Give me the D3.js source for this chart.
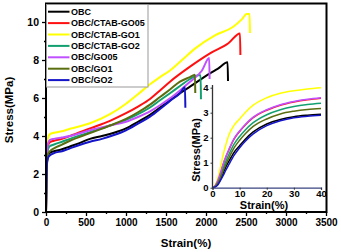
<!DOCTYPE html>
<html><head><meta charset="utf-8">
<script src="https://cdn.jsdelivr.net/npm/d3@7"></script>
<style>
body{margin:0;background:#fff;}
text{font-family:Arial,"Liberation Sans",sans-serif;font-weight:bold;fill:#000;}
</style></head>
<body><svg id="c" width="341" height="252"></svg>
<script>
const seriesNames = ["OBC","OBC/CTAB-GO05","OBC/CTAB-GO1","OBC/CTAB-GO2","OBC/GO05","OBC/GO1","OBC/GO2"];
const seriesColors = ["#000000","#ff1010","#ffff00","#12a070","#c050ff","#5a6e10","#1414c8"];

// main curves: [strain %, stress MPa]
const obc = [[0,0],[5,1.5],[12,2.6],[25,2.95],[50,3.12],[100,3.2],[200,3.3],[300,3.45],[400,3.6],[550,3.85],[700,4.0],[850,4.17],[1000,4.4],[1150,4.75],[1300,5.12],[1425,5.5],[1550,5.88],[1675,6.25],[1800,6.6],[2050,7.3],[2150,7.55],[2270,7.88],[2275,6.9]];
const ctabGo05 = [[0,0],[5,1.7],[12,2.9],[25,3.5],[50,3.68],[100,3.75],[200,3.85],[300,4.0],[550,4.4],[800,4.8],[1000,5.2],[1150,5.55],[1300,5.95],[1425,6.4],[1550,6.86],[1800,7.65],[2050,8.35],[2280,8.88],[2425,9.4],[2430,8.26]];
const ctabGo1 = [[0,0],[5,2.0],[12,3.3],[25,3.9],[50,4.1],[100,4.17],[200,4.25],[300,4.38],[550,4.67],[800,5.15],[1000,5.7],[1150,6.2],[1300,6.72],[1425,7.1],[1550,7.45],[1700,8.0],[1862,8.6],[2112,9.3],[2341,9.75],[2450,10.15],[2508,10.42],[2545,10.42],[2550,9.42]];
const ctabGo2 = [[0,0],[5,1.6],[12,2.8],[25,3.3],[50,3.47],[100,3.55],[200,3.7],[300,3.85],[550,4.2],[800,4.55],[1000,4.85],[1150,5.15],[1300,5.5],[1425,5.88],[1550,6.25],[1675,6.63],[1800,7.0],[1900,7.2],[1933,7.2],[1937,5.93]];
const go05 = [[0,0],[5,1.8],[12,3.0],[25,3.6],[50,3.79],[100,3.85],[200,3.92],[300,4.0],[550,4.3],[800,4.55],[1000,4.75],[1150,5.0],[1300,5.3],[1425,5.62],[1550,5.98],[1675,6.4],[1800,6.85],[1950,7.45],[2040,8.1],[2045,7.0]];
const go1 = [[0,0],[5,1.5],[12,2.6],[25,3.05],[50,3.2],[100,3.35],[200,3.55],[300,3.75],[550,4.15],[800,4.55],[1000,4.9],[1150,5.25],[1300,5.65],[1425,6.05],[1550,6.45],[1675,6.86],[1800,7.1],[1862,7.22],[1866,6.26]];
const go2 = [[0,0],[5,1.4],[12,2.5],[25,2.85],[50,2.98],[100,3.1],[200,3.2],[300,3.35],[400,3.5],[550,3.7],[700,3.85],[850,4.05],[1000,4.3],[1150,4.65],[1300,5.02],[1425,5.42],[1550,5.85],[1675,6.25],[1737,6.56],[1742,5.49]];
const mainSeries = [obc, ctabGo05, ctabGo1, ctabGo2, go05, go1, go2];

// inset curves (0-40 % strain)
const insetStrain = [0,1,2,3,4,5,6,8,10,12,15,20,25,30,35,40];
const insetObc     = [0,0.04,0.15,0.35,0.6,0.85,1.05,1.42,1.68,1.93,2.23,2.55,2.73,2.84,2.9,2.94];
const insetCtabGo05= [0,0.08,0.3,0.6,0.95,1.25,1.5,1.95,2.25,2.5,2.8,3.1,3.3,3.43,3.52,3.58];
const insetCtabGo1 = [0,0.1,0.4,0.85,1.35,1.75,2.1,2.5,2.75,3.0,3.3,3.6,3.78,3.88,3.95,4.0];
const insetCtabGo2 = [0,0.07,0.25,0.5,0.8,1.08,1.32,1.75,2.05,2.3,2.6,2.92,3.12,3.25,3.33,3.38];
const insetGo05    = [0,0.08,0.31,0.62,0.97,1.27,1.52,1.97,2.27,2.52,2.82,3.12,3.32,3.45,3.54,3.6];
const insetGo1     = [0,0.05,0.2,0.42,0.7,0.95,1.18,1.6,1.9,2.15,2.45,2.75,2.95,3.06,3.13,3.17];
const insetGo2     = [0,0.03,0.12,0.3,0.5,0.72,0.92,1.3,1.6,1.85,2.15,2.48,2.68,2.8,2.86,2.9];
const insetSeries = [insetObc, insetCtabGo05, insetCtabGo1, insetCtabGo2, insetGo05, insetGo1, insetGo2];

const xTicks = [0,500,1000,1500,2000,2500,3000,3500];
const yTicks = [0,2,4,6,8,10];
const insetXTicks = [0,10,20,30,40];
const insetYTicks = [0,1,2,3,4];

const svg = d3.select("#c");
const x = d3.scaleLinear().domain([0,3500]).range([46,326]);
const y = d3.scaleLinear().domain([0,11]).range([212,3]);
const fmt = d3.format("d");

// axes
const xAx = svg.append("g").attr("transform","translate(0,212)")
  .call(d3.axisBottom(x).tickValues(xTicks).tickFormat(fmt).tickSize(4).tickPadding(3));
svg.append("g").attr("transform","translate(0,212)")
  .call(d3.axisBottom(x).tickValues(d3.range(250,3500,500)).tickSize(2).tickFormat(""));
const yAx = svg.append("g").attr("transform","translate(46,0)")
  .call(d3.axisLeft(y).tickValues(yTicks).tickFormat(fmt).tickSize(4).tickPadding(3));
svg.append("g").attr("transform","translate(46,0)")
  .call(d3.axisLeft(y).tickValues([1,3,5,7,9]).tickSize(2).tickFormat(""));
svg.selectAll(".domain").remove();
svg.selectAll(".tick line").attr("stroke","#000").attr("stroke-width",1.3);
xAx.selectAll("text").attr("font-size","10px").attr("font-family","Arial,'Liberation Sans',sans-serif").attr("font-weight","bold");
yAx.selectAll("text").attr("font-size","10.5px").attr("font-family","Arial,'Liberation Sans',sans-serif").attr("font-weight","bold");

// curves
const line = d3.line().x(d=>x(d[0])).y(d=>y(d[1])).curve(d3.curveMonotoneX);
mainSeries.forEach((s,i)=>{
  svg.append("path").attr("d",line(s)).attr("fill","none")
    .attr("stroke",seriesColors[i]).attr("stroke-width",2).attr("stroke-linejoin","round");
});

// frame
svg.append("rect").attr("x",46).attr("y",3.5).attr("width",280.5).attr("height",208.5)
  .attr("fill","none").attr("stroke","#000").attr("stroke-width",2);

// axis titles
svg.append("text").attr("x",186).attr("y",247).attr("text-anchor","middle").attr("font-size","11.5px").text("Strain(%)");
svg.append("text").attr("transform","translate(13,110) rotate(-90)").attr("text-anchor","middle").attr("font-size","11.5px").text("Stress(MPa)");

// legend
const lg = svg.append("g");
lg.append("rect").attr("x",46.5).attr("y",4.5).attr("width",101.5).attr("height",82.5)
  .attr("fill","#fff").attr("stroke","#999").attr("stroke-width",1);
seriesNames.forEach((n,i)=>{
  const yy = 11.7 + i*11.4;
  lg.append("line").attr("x1",48).attr("x2",69.5).attr("y1",yy).attr("y2",yy)
    .attr("stroke",seriesColors[i]).attr("stroke-width",2);
  lg.append("text").attr("x",71).attr("y",yy).attr("dy","0.35em").attr("font-size","9px").text(n);
});

// inset
const ix = d3.scaleLinear().domain([0,40]).range([212.5,321]);
const iy = d3.scaleLinear().domain([0,4]).range([187.7,87.7]);
const iline = d3.line().x((d,k)=>ix(insetStrain[k])).y(d=>iy(d)).curve(d3.curveMonotoneX);
insetSeries.forEach((s,i)=>{
  svg.append("path").attr("d",iline(s)).attr("fill","none")
    .attr("stroke",seriesColors[i]).attr("stroke-width",1.5);
});
const ixAx = svg.append("g").attr("transform","translate(0,187.7)")
  .call(d3.axisBottom(ix).tickValues(insetXTicks).tickFormat(fmt).tickSize(2).tickPadding(1));
ixAx.select(".domain").attr("stroke","#3a4580").attr("stroke-width",1.3);
const iyAx = svg.append("g").attr("transform","translate(212.5,0)")
  .call(d3.axisLeft(iy).tickValues(insetYTicks).tickFormat(fmt).tickSize(2).tickPadding(2));
iyAx.select(".domain").attr("stroke","#333").attr("stroke-width",1.3).attr("d","M0,85V187.7");
[ixAx,iyAx].forEach(g=>{
  g.selectAll(".tick line").attr("stroke","#333");
  g.selectAll("text").attr("font-size","9.5px").attr("font-family","Arial,'Liberation Sans',sans-serif").attr("font-weight","bold");
});
svg.append("text").attr("x",264).attr("y",208.5).attr("text-anchor","middle").attr("font-size","11px").text("Strain(%)");
svg.append("text").attr("transform","translate(200,150) rotate(-90)").attr("text-anchor","middle").attr("font-size","11px").text("Stress(MPa)");
</script></body></html>
